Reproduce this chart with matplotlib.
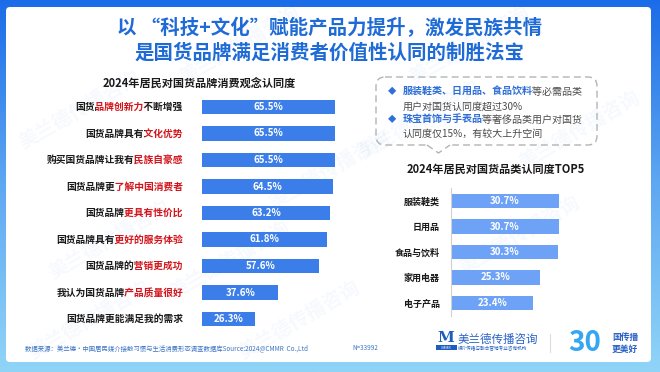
import numpy as np
import matplotlib
matplotlib.use('Agg')
import matplotlib.pyplot as plt
from matplotlib.patches import FancyBboxPatch, Rectangle
from matplotlib.colors import LinearSegmentedColormap
from matplotlib.transforms import Bbox

plt.rcParams['font.family'] = ['Noto Sans CJK SC', 'DejaVu Sans']

# data
title_lines = ['以 “科技+文化”赋能产品力提升，激发民族共情',
               '是国货品牌满足消费者价值性认同的制胜法宝']

left_title = '2024年居民对国货品牌消费观念认同度'
label_pre = ['国货', '国货品牌具有', '购买国货品牌让我有', '国货品牌更', '国货品牌',
             '国货品牌具有', '国货品牌的', '我认为国货品牌', '国货品牌更能满足我的需求']
label_hl = ['品牌创新力', '文化优势', '民族自豪感', '了解中国消费者', '更具有性价比',
            '更好的服务体验', '营销更成功', '产品质量很好', '']
label_post = ['不断增强', '', '', '', '', '', '', '', '']
left_values = [65.5, 65.5, 65.5, 64.5, 63.2, 61.8, 57.6, 37.6, 26.3]

right_title = '2024年居民对国货品类认同度TOP5'
right_cats = ['服装鞋类', '日用品', '食品与饮料', '家用电器', '电子产品']
right_values = [30.7, 30.7, 30.3, 25.3, 23.4]

note_lines = [('服装鞋类、日用品、食品饮料', '等必需品类'),
              ('', '用户对国货认同度超过30%'),
              ('珠宝首饰与手表品', '等奢侈品类用户对国货'),
              ('', '认同度仅15%，有较大上升空间')]

source_text = '数据来源：美兰德•中国居民媒介接触习惯与生活消费形态调查数据库Source:2024@CMMR  Co.,Ltd'
sample_text = 'N=33992'

W, H = 660, 372
BLUE = '#1F6BD6'
RED = '#D3141B'
DARK = '#1a1a1a'

fig = plt.figure(figsize=(W / 100, H / 100), dpi=100)

# background in pixel coordinates
bg = fig.add_axes([0, 0, 1, 1])
bg.set_xlim(0, W)
bg.set_ylim(H, 0)
bg.axis('off')
grad = np.linspace(0, 1, 256).reshape(-1, 1)
cmap = LinearSegmentedColormap.from_list('frame', ['#1B6CE8', '#5FA8F2', '#90D5F8'])
bg.imshow(grad, cmap=cmap, extent=[0, W, H, 0], aspect='auto', zorder=0)
bg.add_patch(FancyBboxPatch((6, 7), 645, 355, boxstyle='round,pad=0,rounding_size=4',
                            fc='white', ec='none', zorder=1))

# faint watermarks
for wx, wy in [(80, 110), (240, 45), (470, 45), (580, 130), (110, 240), (330, 170),
               (520, 235), (90, 320), (300, 320), (230, 260), (420, 120)]:
    bg.text(wx, wy, '美兰德传播咨询', rotation=30, fontsize=14, fontweight='bold',
            color=BLUE, alpha=0.045, ha='center', va='center', zorder=2)

# main title
for k, line in enumerate(title_lines):
    bg.text(330, 28 + k * 25, line, fontsize=14, fontweight='bold', color=BLUE,
            ha='center', va='center', zorder=3)

bg.text(199, 83, left_title, fontsize=8, fontweight='bold', color=DARK,
        ha='center', va='center', zorder=3)
bg.text(496, 169, right_title, fontsize=8, fontweight='bold', color=DARK,
        ha='center', va='center', zorder=3)


def px_axes(x0, y0, x1, y1):
    return fig.add_axes([x0 / W, 1 - y1 / H, (x1 - x0) / W, (y1 - y0) / H])


def clipped(t, x0, x1, yc):
    # clip a text to a horizontal band (display pixels)
    t.set_clip_box(Bbox.from_extents(x0, yc - 12, x1, yc + 12))
    t.set_clip_on(True)


# left chart
axl = px_axes(202, 93.75, 345, 332.25)
axl.patch.set_alpha(0)
n = len(left_values)
axl.barh(range(n), left_values, height=0.53, color='#3B7EE9')
axl.set_xlim(0, 143 / 2.03)
axl.set_ylim(n - 0.5, -0.5)
axl.axis('off')
lab_fs = 7
em = lab_fs * 100 / 72  # CJK glyphs are one em wide
x_r = axl.transAxes.transform((0, 0))[0] - 19
for i, v in enumerate(left_values):
    axl.text(v / 2, i, f'{v}%', color='white', fontsize=7, fontweight='bold',
             ha='center', va='center')
    full = label_pre[i] + label_hl[i] + label_post[i]
    yd = axl.transData.transform((0, i))[1]
    rb = x_r - len(label_post[i]) * em + 0.7
    lb = rb - len(label_hl[i]) * em
    parts = [(DARK, 0, lb), (RED, lb, rb), (DARK, rb, W)] if label_hl[i] else [(DARK, 0, W)]
    for col, c0, c1 in parts:
        t = axl.annotate(full, xy=(0, i), xycoords=('axes fraction', 'data'),
                         xytext=(-19, 0), textcoords='offset pixels',
                         ha='right', va='center', fontsize=lab_fs,
                         fontweight='bold', color=col)
        clipped(t, c0, c1, yd)

# right chart
axr = px_axes(451, 188.25, 580, 315.75)
axr.patch.set_alpha(0)
m = len(right_values)
axr.barh(range(m), right_values, height=0.55, color='#6DA2F6')
axr.set_xlim(0, 129 / 3.52)
axr.set_ylim(m - 0.5, -0.5)
for s in ['top', 'right', 'bottom']:
    axr.spines[s].set_visible(False)
axr.spines['left'].set_color('#d0d0d0')
axr.spines['left'].set_linewidth(0.8)
axr.set_xticks([])
axr.set_yticks(range(m))
axr.set_yticklabels(right_cats, fontsize=6.5, fontweight='bold', color=DARK)
axr.tick_params(axis='y', length=0, pad=8)
for i, v in enumerate(right_values):
    axr.text(v / 2, i, f'{v}%', color='white', fontsize=7, fontweight='bold',
             ha='center', va='center')

# callout box
bg.add_patch(FancyBboxPatch((376, 77), 221, 68, boxstyle='round,pad=0,rounding_size=9',
                            fc='none', ec='#b3b3b3', lw=1, ls=(0, (5, 3)), zorder=3))
bg.plot([427, 450], [145, 145], color='white', lw=2.5, zorder=4)
bg.plot([427, 438.5, 450], [145, 153, 145], color='#b3b3b3', lw=1, ls=(0, (5, 3)), zorder=4)
note_fs = 7.2
note_em = note_fs * 100 / 72
for k, (hl, rest) in enumerate(note_lines):
    y = [92, 106.5, 120, 133.5][k]
    if hl:
        bg.text(392, y, '◆', fontsize=6, color='#2F6FD8', ha='center', va='center', zorder=5)
        full = hl + rest
        cut = 403 + len(hl) * note_em - 0.5
        t1 = bg.text(403, y, full, fontsize=note_fs, fontweight='bold', color='#2F6FD8',
                     ha='left', va='center', zorder=5)
        clipped(t1, 0, cut, H - y)
        t2 = bg.text(403, y, full, fontsize=note_fs, color='#4a4a4a',
                     ha='left', va='center', zorder=5)
        clipped(t2, cut, W, H - y)
    else:
        bg.text(403, y, rest, fontsize=note_fs, color='#4a4a4a', ha='left', va='center', zorder=5)

# footer
bg.text(25, 348, source_text, fontsize=4.6, color='#3C74C4', ha='left', va='center', zorder=3)
bg.text(352, 348, sample_text, fontsize=4.6, color='#3C74C4', ha='left', va='center', zorder=3)

# logos
bg.text(446, 338, 'M', fontsize=11, fontweight='bold', family='DejaVu Serif',
        color='#1E5DBE', ha='center', va='center', zorder=3)
bg.add_patch(Rectangle((436, 345), 21, 5, fc='#1E5DBE', ec='none', zorder=3))
bg.text(446.5, 347.6, 'CMMR', fontsize=2.6, color='white', ha='center', va='center', zorder=4)
bg.text(458, 339, '美兰德传播咨询', fontsize=8.3, color='#2A62C6', ha='left', va='center', zorder=3)
bg.text(458, 349, '媒介传播与融合营销专业咨询机构', fontsize=3.3, color='#2A62C6',
        ha='left', va='center', zorder=3)
bg.plot([550, 550], [334, 352], color='#dddddd', lw=0.8, zorder=3)
bg.text(585, 343, '30', fontsize=20, fontweight='bold', style='italic', color='#34A6F2',
        ha='center', va='center', zorder=3)
bg.text(612, 337, '国传播', fontsize=6.3, fontweight='bold', color='#2A62C6',
        ha='left', va='center', zorder=3)
bg.text(612, 349, '更美好', fontsize=6.3, fontweight='bold', color='#2A62C6',
        ha='left', va='center', zorder=3)

fig.savefig('out.png', dpi=100)
